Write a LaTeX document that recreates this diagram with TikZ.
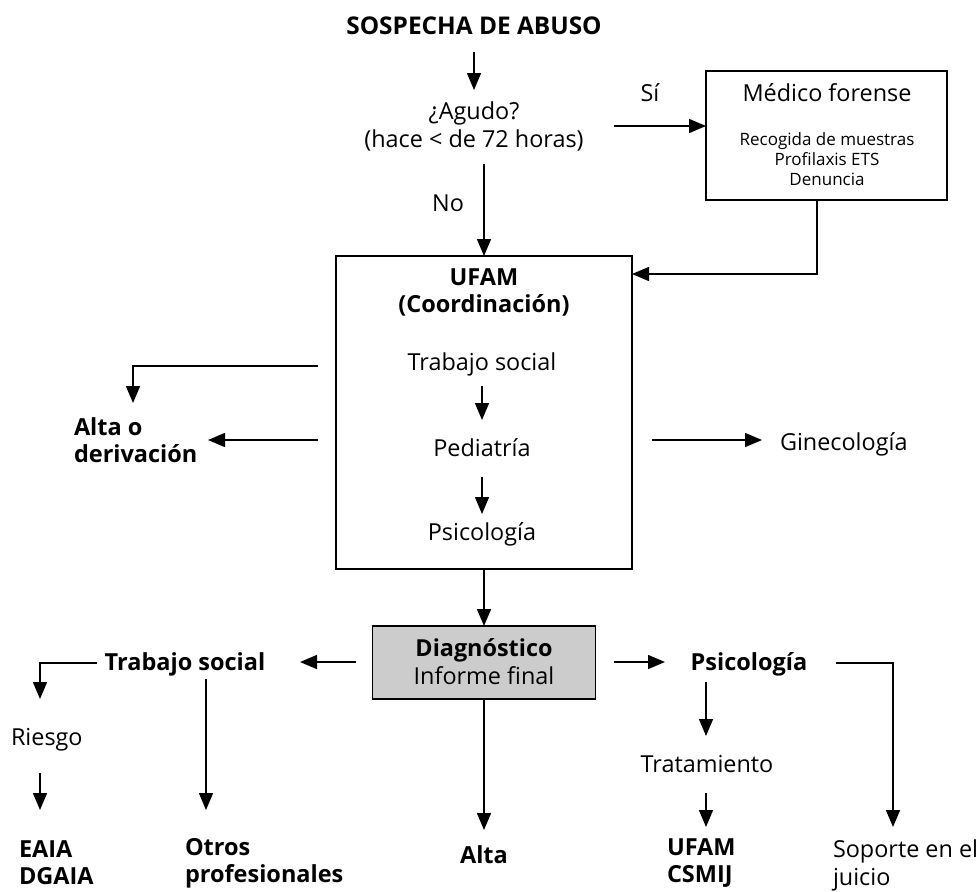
\documentclass[tikz,border=0pt]{standalone}
\usepackage{fontspec}
\setmainfont{Open Sans}
\usetikzlibrary{arrows.meta}
\begin{document}
\begin{tikzpicture}[x=1pt,y=-1pt,
  every node/.style={inner sep=0pt, outer sep=0pt, align=center, font=\fontsize{23.4}{28}\selectfont},
  bt/.style={font=\fontsize{23.5}{27}\selectfont\bfseries},
  sm/.style={font=\fontsize{17}{20}\selectfont},
  arr/.style={-{Triangle[length=17pt,width=14pt]}, line width=1.5pt},
  box/.style={draw, line width=1.5pt}]
\useasboundingbox (0,0) rectangle (979,891);

% top
\node[font=\fontsize{24.4}{28}\selectfont\bfseries] (sosp) at (474,26) {SOSPECHA DE ABUSO};
\node (agudo) at (474,126) {¿Agudo?\\(hace < de 72 horas)};
\node (si) at (650,93) {Sí};
\node[box, minimum width=241pt, minimum height=129pt] (med) at (826.5,135.5) {};
\node (medt) at (827,93) {Médico forense};
\node[sm] (medl) at (827,159) {Recogida de muestras\\Profilaxis ETS\\Denuncia};
\node (no) at (448,203) {No};

% UFAM
\node[box, minimum width=296pt, minimum height=313pt] (ufam) at (484,412.5) {};
\node[bt] (ufamt) at (484,292.5) {UFAM\\(Coordinación)};
\node (ts1) at (482,364) {Trabajo social};
\node (ped) at (482,448) {Pediatría};
\node (psi1) at (482,534) {Psicología};
\node[bt, align=left, anchor=west] (altader) at (74,440) {Alta o\\derivación};
\node[anchor=west] (gine) at (780,444) {Ginecología};

% Diagnostico
\node[box, fill=black!20, minimum width=223pt, minimum height=73pt] (diag) at (484,662.5) {};
\node (diagt) at (484,662) {\textbf{Diagnóstico}\\Informe final};

\node[bt] (ts2) at (185,664) {Trabajo social};
\node[anchor=west] (riesgo) at (11,740) {Riesgo};
\node[bt, align=left, anchor=west] (eaia) at (19,863) {EAIA\\DGAIA};
\node[bt, align=left, anchor=west] (otros) at (185,863) {Otros\\profesionales};
\node[bt] (alta) at (484,855) {Alta};
\node[bt] (psi2) at (749,664) {Psicología};
\node (trat) at (707,764) {Tratamiento};
\node[bt, align=left, anchor=west] (csmij) at (667,863) {UFAM\\CSMIJ};
\node[align=left, anchor=west] (soporte) at (833,865) {Soporte en el\\juicio};

% named free ends
\coordinate (l1) at (318,366);
\coordinate (l2) at (318,440);
\coordinate (r1) at (652,440);
\coordinate (dl) at (356,662);
\coordinate (dr) at (614,662);

% connectors
\draw[arr] (sosp |- 0,52) -- (agudo |- 0,90);
\draw[arr] (agudo.east -| 614,0) -- (med.west |- 0,126);
\draw[arr] (ufam.north |- 0,164) -- (ufam.north);
\draw[arr] (med.south -| 817,0) |- (ufam.east |- 0,274);
\draw[arr] (ts1 |- 0,386) -- (ts1 |- 0,420);
\draw[arr] (ped |- 0,477) -- (ped |- 0,514);
\draw[arr] (l1) -| (133,403);
\draw[arr] (l2) -- (208,440);
\draw[arr] (r1) -- (762,440);
\draw[arr] (ufam.south) -- (diag.north);
\draw[arr] (dl) -- (300,662);
\draw[arr] (97,663) -| (40,699);
\draw[arr] (40,773) -- (40,810);
\draw[arr] (206,679) -- (206,810);
\draw[arr] (diag.south) -- (diag.south |- 0,830);
\draw[arr] (dr) -- (665,662);
\draw[arr] (706,682) -- (706,736);
\draw[arr] (706,793) -- (706,827);
\draw[arr] (836,663) -| (893,827);
\end{tikzpicture}
\end{document}
